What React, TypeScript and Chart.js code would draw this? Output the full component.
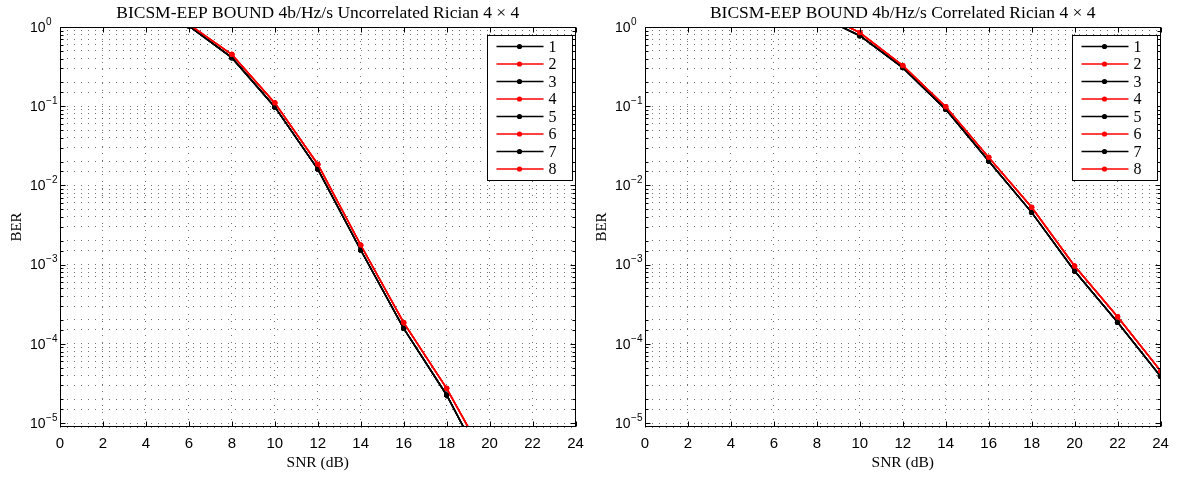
import React, { useEffect, useRef } from 'react';
import { Chart, registerables } from 'chart.js';

Chart.register(...registerables);

// SNR grid (dB) shared by both panels
const snr = [0, 2, 4, 6, 8, 10, 12, 14, 16, 18, 20, 22, 24];

// Uncorrelated Rician 4x4 — odd-numbered (black) and even-numbered (red) curves
const uncorrBlack: (number | null)[] = [null, null, null, 1.03, 0.41, 0.098, 0.0161, 1.53e-3, 1.57e-4, 2.26e-5, 2.1e-6, null, null];
const uncorrRed: (number | null)[] = [null, null, null, 1.08, 0.45, 0.11, 0.0185, 1.77e-3, 1.85e-4, 2.74e-5, 2.9e-6, null, null];

// Correlated Rician 4x4
const corrBlack: (number | null)[] = [null, null, null, null, 1.42, 0.776, 0.307, 0.0913, 0.0203, 4.57e-3, 8.3e-4, 1.87e-4, 3.89e-5];
const corrRed: (number | null)[] = [null, null, null, null, 1.58, 0.848, 0.325, 0.0986, 0.0226, 5.29e-3, 9.6e-4, 2.2e-4, 4.57e-5];

const seriesNames = ['1', '2', '3', '4', '5', '6', '7', '8'];
const seriesColors = ['#000000', '#ff0000', '#000000', '#ff0000', '#000000', '#ff0000', '#000000', '#ff0000'];

const xTickValues = [0, 2, 4, 6, 8, 10, 12, 14, 16, 18, 20, 22, 24];
const yDecades = [0, -1, -2, -3, -4, -5];

const titleLeft = 'BICSM-EEP BOUND 4b/Hz/s Uncorrelated Rician 4 \u00d7 4';
const titleRight = 'BICSM-EEP BOUND 4b/Hz/s Correlated Rician 4 \u00d7 4';

const SERIF = '"Liberation Serif", "Times New Roman", serif';
const SANS = '"Liberation Sans", Arial, sans-serif';

const Y_MIN = Math.pow(10, -5.05);
const Y_MAX = 1;

// Axes frame, inner tick marks, decade labels and the boxed legend
const framePlugin = {
  id: 'matlabFrame',
  afterDatasetsDraw(chart: any) {
    const { ctx, chartArea } = chart;
    const { left, right, top, bottom } = chartArea;
    const xs = chart.scales.x;
    const ys = chart.scales.y;
    const L = Math.round(left) + 0.5;
    const R = Math.round(right) - 0.5;
    const T = Math.round(top) + 0.5;
    const B = Math.round(bottom) - 0.5;
    ctx.save();
    ctx.strokeStyle = '#000';
    ctx.lineWidth = 1;
    ctx.setLineDash([]);

    // inner ticks on x (top and bottom)
    ctx.beginPath();
    for (const v of xTickValues) {
      const px = Math.round(xs.getPixelForValue(v)) + 0.5;
      ctx.moveTo(px, B);
      ctx.lineTo(px, B - 5);
      ctx.moveTo(px, T);
      ctx.lineTo(px, T + 5);
    }
    // inner ticks on y (left and right), longer on decades
    for (const t of ys.ticks) {
      const v = t.value;
      if (v < 1e-5 * 0.999 || v > 1.0001) continue;
      const lg = Math.log10(v);
      const major = Math.abs(lg - Math.round(lg)) < 1e-6;
      const len = major ? 5 : 3;
      const py = Math.round(ys.getPixelForValue(v)) + 0.5;
      ctx.moveTo(L, py);
      ctx.lineTo(L + len, py);
      ctx.moveTo(R, py);
      ctx.lineTo(R - len, py);
    }
    ctx.stroke();

    // axes box
    ctx.strokeRect(L, T, R - L, B - T);

    // legend
    const boxW = 85;
    const boxH = 145;
    const bx = Math.round(right - 3.5 - boxW) + 0.5;
    const by = Math.round(top + 8) + 0.5;
    ctx.fillStyle = '#fff';
    ctx.fillRect(bx, by, boxW, boxH);
    ctx.strokeStyle = '#000';
    ctx.lineWidth = 1;
    ctx.strokeRect(bx, by, boxW, boxH);
    ctx.font = '16px ' + SERIF;
    ctx.textAlign = 'left';
    ctx.textBaseline = 'middle';
    chart.data.datasets.forEach((ds: any, i: number) => {
      const ey = by + 11 + i * 17.5;
      ctx.strokeStyle = ds.borderColor;
      ctx.lineWidth = 1.5;
      ctx.beginPath();
      ctx.moveTo(bx + 9, ey);
      ctx.lineTo(bx + 56, ey);
      ctx.stroke();
      ctx.fillStyle = ds.borderColor;
      ctx.beginPath();
      ctx.arc(bx + 32, ey, 2.6, 0, Math.PI * 2);
      ctx.fill();
      ctx.fillStyle = '#000';
      ctx.fillText(ds.label, bx + 61, ey + 1);
    });
    ctx.restore();
  },
  afterDraw(chart: any) {
    const { ctx } = chart;
    const ys = chart.scales.y;
    ctx.save();
    ctx.fillStyle = '#000';
    ctx.textAlign = 'left';
    ctx.textBaseline = 'middle';
    for (const e of yDecades) {
      const py = ys.getPixelForValue(Math.pow(10, e));
      ctx.font = '14px ' + SANS;
      ctx.fillText('10', 30, py + 1);
      const w = ctx.measureText('10').width;
      ctx.font = '10px ' + SANS;
      ctx.fillText(e === 0 ? '0' : '\u2212' + String(-e), 30 + w + 0.5, py - 5);
    }
    ctx.restore();
  },
};

function buildConfig(title: string, black: (number | null)[], red: (number | null)[], rightPad: number): any {
  const datasets = seriesNames.map((name, i) => {
    const values = i % 2 === 0 ? black : red;
    const color = seriesColors[i];
    return {
      label: name,
      data: snr
        .map((x, k) => ({ x, y: values[k] }))
        .filter((p) => p.y !== null),
      borderColor: color,
      backgroundColor: color,
      pointBackgroundColor: color,
      pointBorderColor: color,
      borderWidth: 1.5,
      pointRadius: 2.6,
      pointHoverRadius: 2.6,
      pointBorderWidth: 0,
      tension: 0,
      clip: 0,
      order: seriesNames.length - 1 - i,
    };
  });

  const gridColor = 'rgba(0,0,0,0.55)';

  return {
    type: 'line',
    data: { datasets },
    plugins: [framePlugin],
    options: {
      animation: false,
      responsive: false,
      devicePixelRatio: 1,
      events: [],
      layout: { padding: { left: 0, right: rightPad, top: 0, bottom: 0 } },
      plugins: {
        legend: { display: false },
        tooltip: { enabled: false },
        title: {
          display: true,
          text: title,
          color: '#000',
          fullSize: false,
          font: { family: SERIF, size: 17.5, weight: 'normal', lineHeight: 1.2 },
          padding: { top: 3, bottom: 3 },
        },
      },
      scales: {
        x: {
          type: 'linear',
          min: 0,
          max: 24,
          afterFit(scale: any) {
            scale.height = 53;
            scale.paddingLeft = 0;
            scale.paddingRight = 0;
          },
          afterBuildTicks(scale: any) {
            scale.ticks = xTickValues.map((v) => ({ value: v }));
          },
          ticks: {
            autoSkip: false,
            maxRotation: 0,
            padding: 8,
            color: '#000',
            font: { family: SANS, size: 15 },
          },
          grid: {
            color: gridColor,
            lineWidth: 1,
            drawTicks: false,
          },
          border: { display: false, dash: [1, 6] },
          title: {
            display: true,
            text: 'SNR (dB)',
            color: '#000',
            font: { family: SERIF, size: 15.5, lineHeight: 1.2 },
            padding: { top: 0, bottom: 7.7 },
          },
        },
        y: {
          type: 'logarithmic',
          min: Y_MIN,
          max: Y_MAX,
          afterFit(scale: any) {
            scale.width = 60;
          },
          ticks: {
            display: false,
            autoSkip: false,
          },
          grid: {
            color: gridColor,
            lineWidth: 1,
            drawTicks: false,
          },
          border: { display: false, dash: [1, 6] },
          title: {
            display: true,
            text: 'BER',
            color: '#000',
            font: { family: SERIF, size: 15, lineHeight: 1.2 },
            padding: { top: 8, bottom: 0 },
          },
        },
      },
    },
  };
}

function Panel(props: { left: number; width: number; title: string; black: (number | null)[]; red: (number | null)[]; rightPad: number }) {
  const ref = useRef<HTMLCanvasElement | null>(null);
  useEffect(() => {
    if (!ref.current) return;
    const chart = new Chart(ref.current, buildConfig(props.title, props.black, props.red, props.rightPad));
    return () => chart.destroy();
  }, []);
  return (
    <canvas
      ref={ref}
      width={props.width}
      height={480}
      style={{ position: 'absolute', left: props.left, top: 0, width: props.width, height: 480 }}
    />
  );
}

export default function App() {
  return (
    <div style={{ position: 'absolute', left: 0, top: 0, width: 1189, height: 480, background: '#fff', overflow: 'hidden' }}>
      <Panel left={0} width={585} title={titleLeft} black={uncorrBlack} red={uncorrRed} rightPad={9.5} />
      <Panel left={585} width={604} title={titleRight} black={corrBlack} red={corrRed} rightPad={28.5} />
    </div>
  );
}
